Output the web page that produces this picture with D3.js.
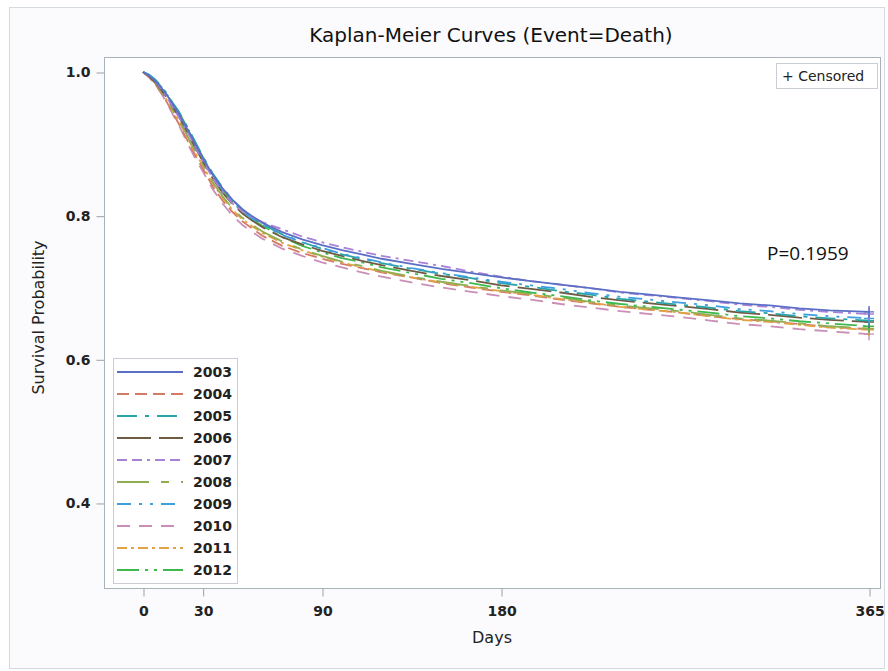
<!DOCTYPE html>
<html>
<head>
<meta charset="utf-8">
<script src="https://cdn.jsdelivr.net/npm/d3@7"></script>
<style>
  html, body { margin: 0; padding: 0; background: #ffffff; }
  svg text { font-family: "DejaVu Sans", "Liberation Sans", Arial, sans-serif; }
</style>
</head>
<body>
<div id="chart"></div>
<script>
(function () {
  'use strict';

  /* ── Data ── */
  var days = [0, 3, 6, 9, 12, 15, 18, 21, 24, 27, 30, 35, 40, 45, 50, 55, 60, 70, 80, 90,
    100, 110, 120, 135, 150, 165, 180, 195, 210, 225, 240, 255, 270, 285, 300, 315, 330, 345, 365];

  var years = ['2003', '2004', '2005', '2006', '2007', '2008', '2009', '2010', '2011', '2012'];

  var surv2003 = [1.000,0.995,0.988,0.979,0.968,0.955,0.942,0.927,0.912,0.896,0.881,0.857,0.838,0.822,0.809,0.799,0.790,0.777,0.767,0.759,0.752,0.746,0.740,0.733,0.726,0.720,0.714,0.709,0.704,0.699,0.694,0.690,0.686,0.682,0.678,0.675,0.671,0.668,0.666];
  var surv2004 = [1.000,0.993,0.984,0.972,0.958,0.943,0.928,0.912,0.896,0.880,0.866,0.841,0.821,0.805,0.792,0.782,0.772,0.758,0.748,0.740,0.733,0.727,0.721,0.714,0.706,0.700,0.694,0.689,0.683,0.678,0.673,0.669,0.665,0.660,0.656,0.653,0.649,0.645,0.642];
  var surv2005 = [1.000,0.996,0.990,0.981,0.970,0.957,0.945,0.930,0.915,0.899,0.883,0.859,0.839,0.822,0.808,0.797,0.788,0.774,0.763,0.754,0.746,0.740,0.734,0.726,0.719,0.713,0.706,0.701,0.695,0.690,0.684,0.680,0.676,0.672,0.667,0.664,0.660,0.657,0.654];
  var surv2006 = [1.000,0.994,0.986,0.976,0.964,0.951,0.938,0.923,0.907,0.891,0.876,0.852,0.832,0.816,0.803,0.793,0.784,0.770,0.760,0.751,0.744,0.737,0.731,0.723,0.716,0.710,0.703,0.698,0.693,0.687,0.682,0.678,0.674,0.670,0.665,0.662,0.658,0.655,0.652];
  var surv2007 = [1.000,0.995,0.987,0.977,0.965,0.951,0.938,0.923,0.908,0.892,0.877,0.853,0.833,0.817,0.806,0.798,0.791,0.781,0.771,0.763,0.756,0.750,0.744,0.737,0.730,0.722,0.715,0.709,0.704,0.699,0.693,0.689,0.685,0.681,0.676,0.673,0.669,0.666,0.663];
  var surv2008 = [1.000,0.994,0.985,0.974,0.961,0.947,0.934,0.918,0.902,0.886,0.872,0.847,0.827,0.810,0.797,0.787,0.778,0.764,0.753,0.744,0.736,0.730,0.723,0.715,0.708,0.702,0.696,0.691,0.686,0.680,0.675,0.671,0.667,0.662,0.657,0.654,0.650,0.646,0.643];
  var surv2009 = [1.000,0.996,0.989,0.980,0.969,0.956,0.943,0.928,0.912,0.896,0.880,0.856,0.836,0.820,0.806,0.796,0.787,0.773,0.763,0.755,0.747,0.741,0.735,0.727,0.720,0.714,0.708,0.703,0.698,0.692,0.687,0.683,0.679,0.675,0.670,0.667,0.663,0.660,0.657];
  var surv2010 = [1.000,0.993,0.983,0.971,0.957,0.941,0.926,0.909,0.892,0.876,0.862,0.837,0.817,0.800,0.787,0.777,0.768,0.754,0.744,0.735,0.728,0.721,0.715,0.707,0.700,0.694,0.688,0.683,0.677,0.672,0.667,0.663,0.659,0.654,0.649,0.646,0.642,0.639,0.635];
  var surv2011 = [1.000,0.994,0.985,0.974,0.961,0.946,0.932,0.916,0.900,0.884,0.870,0.845,0.825,0.808,0.795,0.785,0.776,0.762,0.752,0.743,0.735,0.728,0.722,0.714,0.707,0.701,0.695,0.690,0.684,0.679,0.673,0.669,0.665,0.660,0.655,0.652,0.648,0.644,0.641];
  var surv2012 = [1.000,0.996,0.989,0.980,0.969,0.956,0.944,0.929,0.914,0.897,0.882,0.857,0.836,0.819,0.805,0.795,0.786,0.770,0.758,0.749,0.741,0.735,0.728,0.720,0.712,0.706,0.699,0.693,0.688,0.682,0.677,0.673,0.669,0.665,0.660,0.657,0.653,0.650,0.646];

  var survival = [surv2003, surv2004, surv2005, surv2006, surv2007,
    surv2008, surv2009, surv2010, surv2011, surv2012];

  var xTicks = [0, 30, 90, 180, 365];
  var yTicks = [0.4, 0.6, 0.8, 1.0];
  var pValueLabel = 'P=0.1959';

  /* ── Styles per series ── */
  var colors = ['#5b6fc6', '#d27a66', '#28a3a8', '#6e5b42', '#a982d6',
    '#8fae52', '#3e9fe0', '#c98fb8', '#e3a244', '#3fb84e'];
  var dashes = ['none', '12,6', '20,8,4,8', '34,8', '10,5,10,5,3,5',
    '32,12,8,12', '14,8,3,8,3,8', '13,9', '10,4,3,4', '22,6,3,6,3,6'];

  /* ── Layout ── */
  var W = 888, H = 671;
  var box = { left: 104, top: 57, right: 880, bottom: 588 };

  var svg = d3.select('#chart').append('svg')
    .attr('width', W).attr('height', H);

  /* Page background and outer border */
  svg.append('rect')
    .attr('x', 0).attr('y', 0).attr('width', W).attr('height', H)
    .attr('fill', '#ffffff');
  svg.append('rect')
    .attr('x', 9.5).attr('y', 7.5).attr('width', 875).attr('height', 661)
    .attr('fill', '#fbfbfd')
    .attr('stroke', '#d4dae0');

  var x = d3.scaleLinear().domain([-19.6, 370.5]).range([box.left, box.right]);
  var y = d3.scaleLinear().domain([0.2816, 1.0209]).range([box.bottom, box.top]);

  /* Plot area */
  svg.append('rect')
    .attr('x', box.left + 0.5).attr('y', box.top + 0.5)
    .attr('width', box.right - box.left).attr('height', box.bottom - box.top)
    .attr('fill', '#ffffff')
    .attr('stroke', '#a9b1b9');

  /* Title */
  svg.append('text')
    .attr('x', 491).attr('y', 42)
    .attr('text-anchor', 'middle')
    .attr('font-size', 20)
    .attr('fill', '#111')
    .text('Kaplan-Meier Curves (Event=Death)');

  /* Axes */
  var xAxis = svg.append('g')
    .attr('transform', 'translate(0.5,' + (box.bottom + 0.5) + ')')
    .call(d3.axisBottom(x).tickValues(xTicks).tickSize(8).tickPadding(10));
  var yAxis = svg.append('g')
    .attr('transform', 'translate(' + (box.left + 0.5) + ',0.5)')
    .call(d3.axisLeft(y).tickValues(yTicks).tickFormat(d3.format('.1f')).tickSize(8).tickPadding(6));

  [xAxis, yAxis].forEach(function (g) {
    g.select('.domain').remove();
    g.selectAll('.tick line').attr('stroke', '#98a2ac');
    g.selectAll('.tick text')
      .attr('fill', '#222')
      .attr('font-size', 14)
      .attr('font-weight', 'bold')
      .style('font-family', '"DejaVu Sans", "Liberation Sans", sans-serif');
  });

  svg.append('text')
    .attr('x', (box.left + box.right) / 2).attr('y', 643)
    .attr('text-anchor', 'middle')
    .attr('font-size', 16)
    .attr('fill', '#222')
    .text('Days');

  svg.append('text')
    .attr('transform', 'translate(44,' + ((box.top + box.bottom) / 2 - 5) + ') rotate(-90)')
    .attr('text-anchor', 'middle')
    .attr('font-size', 16)
    .attr('fill', '#222')
    .text('Survival Probability');

  /* Clip to plot */
  svg.append('defs').append('clipPath').attr('id', 'plotclip')
    .append('rect')
    .attr('x', box.left + 1).attr('y', box.top + 1)
    .attr('width', box.right - box.left - 1).attr('height', box.bottom - box.top - 1);

  /* Curves */
  var line = d3.line()
    .x(function (d) { return x(d[0]); })
    .y(function (d) { return y(d[1]); })
    .curve(d3.curveLinear);

  var curveG = svg.append('g').attr('clip-path', 'url(#plotclip)');
  var drawOrder = [7, 1, 8, 5, 9, 3, 2, 6, 4, 0];
  drawOrder.forEach(function (i) {
    var pts = days.map(function (d, k) { return [d, survival[i][k]]; });
    curveG.append('path')
      .attr('d', line(pts))
      .attr('fill', 'none')
      .attr('stroke', colors[i])
      .attr('stroke-width', 1.8)
      .attr('stroke-dasharray', dashes[i]);

    /* Censored mark at last day */
    var cx = x(days[days.length - 1]), cy = y(survival[i][days.length - 1]);
    curveG.append('path')
      .attr('d', 'M' + (cx - 5) + ',' + cy + 'H' + (cx + 5) + 'M' + cx + ',' + (cy - 6) + 'V' + (cy + 6))
      .attr('stroke', colors[i])
      .attr('stroke-width', 1.4)
      .attr('fill', 'none');
  });

  /* P value */
  svg.append('text')
    .attr('x', 767).attr('y', 260)
    .attr('font-size', 19)
    .attr('fill', '#111')
    .style('font-family', '"Open Sans", "Liberation Sans", sans-serif')
    .text(pValueLabel);

  /* Censored legend */
  svg.append('rect')
    .attr('x', 776.5).attr('y', 63.5).attr('width', 101).attr('height', 25)
    .attr('fill', '#ffffff').attr('stroke', '#c8ced4');
  svg.append('text')
    .attr('x', 782).attr('y', 81)
    .attr('font-size', 14)
    .attr('fill', '#222')
    .text('+ Censored');

  /* Year legend */
  var leg = svg.append('g');
  leg.append('rect')
    .attr('x', 113.5).attr('y', 358.5).attr('width', 124).attr('height', 225)
    .attr('fill', '#ffffff').attr('stroke', '#c8ced4');

  years.forEach(function (yr, i) {
    var ry = 372 + i * 22;
    leg.append('line')
      .attr('x1', 117).attr('x2', 183)
      .attr('y1', ry).attr('y2', ry)
      .attr('stroke', colors[i])
      .attr('stroke-width', 1.8)
      .attr('stroke-dasharray', dashes[i]);
    leg.append('text')
      .attr('x', 193).attr('y', ry + 5)
      .attr('font-size', 14)
      .attr('font-weight', 'bold')
      .attr('fill', '#222')
      .text(yr);
  });
})();
</script>
</body>
</html>
